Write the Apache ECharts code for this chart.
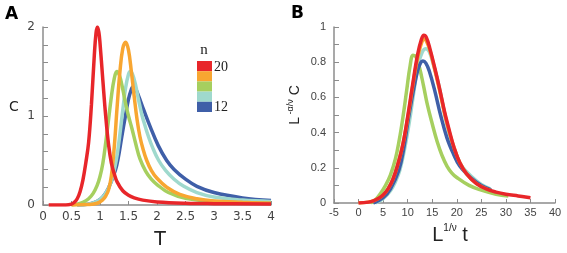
<!DOCTYPE html>
<html>
<head>
<meta charset="utf-8">
<script src="https://cdn.jsdelivr.net/npm/echarts@6/dist/echarts.min.js"></script>
<style>
  html, body { margin: 0; padding: 0; background: #fff; }
  #chart { width: 567px; height: 253px; }
</style>
</head>
<body>
<div id="chart"></div>
<script>
// panel A : C vs T for n = 20 .. 12
const redA = [[0.1,0],[0.4,0],[0.5,0.01],[0.55,0.03],[0.6,0.07],[0.65,0.15],[0.7,0.28],[0.75,0.47],[0.8,0.7],[0.85,1.13],[0.9,1.68],[0.93,1.93],[0.955,2.0],[0.98,1.94],[1.0,1.82],[1.05,1.4],[1.1,1.0],[1.15,0.68],[1.2,0.47],[1.25,0.35],[1.3,0.26],[1.4,0.16],[1.5,0.11],[1.6,0.08],[1.75,0.055],[2,0.035],[2.5,0.02],[3,0.015],[4,0.01]];
const orangeA = [[0.5,0],[0.8,0.005],[0.95,0.02],[1.05,0.06],[1.1,0.1],[1.15,0.17],[1.2,0.33],[1.25,0.65],[1.3,1.1],[1.35,1.5],[1.4,1.76],[1.45,1.83],[1.5,1.74],[1.55,1.5],[1.6,1.22],[1.65,0.96],[1.7,0.77],[1.75,0.64],[1.82,0.5],[1.9,0.39],[2.0,0.3],[2.17,0.2],[2.4,0.12],[2.7,0.07],[3,0.045],[3.5,0.03],[4,0.02]];
const greenA = [[0.5,0],[0.6,0.01],[0.7,0.03],[0.8,0.07],[0.88,0.13],[0.95,0.22],[1.0,0.32],[1.05,0.47],[1.1,0.7],[1.15,0.96],[1.2,1.22],[1.25,1.42],[1.295,1.5],[1.34,1.46],[1.4,1.3],[1.45,1.14],[1.5,1.0],[1.56,0.86],[1.63,0.68],[1.7,0.52],[1.8,0.38],[1.9,0.29],[2.0,0.23],[2.2,0.14],[2.5,0.075],[3,0.04],[3.5,0.025],[4,0.02]];
const cyanA = [[0.6,0],[0.8,0.01],[0.95,0.04],[1.05,0.09],[1.15,0.19],[1.2,0.27],[1.25,0.39],[1.3,0.56],[1.35,0.8],[1.4,1.07],[1.45,1.32],[1.5,1.47],[1.53,1.5],[1.57,1.47],[1.62,1.36],[1.68,1.17],[1.74,1.0],[1.79,0.89],[1.85,0.77],[1.92,0.65],[2.03,0.5],[2.15,0.39],[2.3,0.29],[2.47,0.21],[2.7,0.14],[3,0.09],[3.5,0.055],[4,0.04]];
const blueA = [[0.6,0],[0.8,0.01],[0.95,0.04],[1.05,0.09],[1.15,0.19],[1.27,0.39],[1.32,0.53],[1.38,0.76],[1.44,0.98],[1.5,1.19],[1.55,1.3],[1.58,1.33],[1.62,1.31],[1.68,1.22],[1.76,1.08],[1.88,0.88],[2.02,0.67],[2.17,0.5],[2.3,0.4],[2.5,0.29],[2.7,0.21],[3,0.14],[3.5,0.08],[4,0.05]];

// panel B : scaled collapse
const redB = [[0,0],[2,0.005],[3,0.012],[4,0.025],[5,0.045],[6,0.08],[7,0.135],[8,0.22],[9,0.33],[10,0.49],[11,0.67],[12,0.84],[12.8,0.93],[13.3,0.953],[13.8,0.94],[14.5,0.88],[15.5,0.77],[16.5,0.65],[17.5,0.52],[18.5,0.41],[19.5,0.31],[20.6,0.23],[22,0.165],[24,0.11],[26,0.08],[28,0.062],[30,0.05],[32.5,0.04],[35,0.03]];
const orangeB = [[0,0],[2,0.005],[3,0.012],[4,0.025],[5,0.045],[6,0.08],[7,0.135],[8,0.22],[9,0.33],[10,0.48],[11,0.66],[12,0.82],[12.9,0.915],[13.4,0.93],[13.9,0.915],[14.6,0.86],[15.5,0.76],[16.5,0.64],[17.5,0.51],[18.5,0.4],[19.5,0.31],[20.6,0.23],[22,0.165],[24,0.11],[27,0.07]];
const greenB = [[2.5,0],[3.5,0.02],[4.5,0.055],[5.5,0.1],[6.5,0.16],[7.5,0.25],[8.3,0.36],[9,0.48],[9.8,0.64],[10.5,0.78],[11.1,0.84],[11.7,0.83],[12.4,0.77],[13.2,0.67],[14,0.56],[15,0.45],[16,0.35],[17,0.27],[18,0.21],[19,0.17],[20,0.145],[22.5,0.1],[25,0.073],[28,0.05],[30.5,0.04]];
const cyanB = [[3.5,0],[5,0.025],[6.5,0.07],[7.5,0.12],[8.4,0.186],[9.4,0.31],[10.4,0.47],[11.3,0.64],[12.2,0.79],[13,0.86],[13.7,0.877],[14.4,0.86],[15.2,0.79],[16,0.71],[16.8,0.61],[17.8,0.47],[18.8,0.36],[19.8,0.28],[21,0.21],[23,0.15],[25,0.105],[26.8,0.08]];
const blueB = [[3,0],[5,0.03],[6.5,0.08],[8.2,0.186],[9.2,0.31],[10.1,0.47],[11.1,0.63],[12,0.75],[12.6,0.795],[13.1,0.807],[13.7,0.795],[14.4,0.75],[15.5,0.64],[16.7,0.5],[18,0.37],[19.3,0.28],[20.6,0.21],[23,0.14],[25,0.1],[27,0.075]];

const legendLabels = ['20', '12'];

const colors = {
  red: '#e8262a',
  orange: '#f8a631',
  green: '#a6cf5f',
  cyan: '#9fd9cd',
  blue: '#3f5fa8'
};
const axisGray = '#8c8c8c';

const chart = echarts.init(document.getElementById('chart'));

function line(name, data, color, idx) {
  return {
    name: name,
    type: 'line',
    xAxisIndex: idx,
    yAxisIndex: idx,
    data: data,
    smooth: 0.4,
    showSymbol: false,
    lineStyle: { color: color, width: 3.5 },
    z: 2
  };
}

const legendOrder = ['red', 'orange', 'green', 'cyan', 'blue'];
const legendBlocks = legendOrder.map((c, i) => ({
  type: 'rect',
  shape: { x: 197, y: 61 + i * 10.2, width: 15, height: 10.2 },
  style: { fill: colors[c] }
}));

const option = {
  animation: false,
  grid: [
    { left: 43, top: 27, width: 228, height: 178, containLabel: false, outerBoundsMode: 'none' },
    { left: 334, top: 27, width: 221, height: 176, containLabel: false, outerBoundsMode: 'none' }
  ],
  xAxis: [
    {
      gridIndex: 0, type: 'value', min: 0, max: 4, interval: 0.5,
      axisLine: { lineStyle: { color: axisGray, width: 1.5 } },
      axisTick: { inside: true, length: 4, lineStyle: { color: axisGray } },
      axisLabel: { color: '#444', fontFamily: 'DejaVu Sans', fontSize: 12, margin: 6 },
      splitLine: { show: false }
    },
    {
      gridIndex: 1, type: 'value', min: -5, max: 40, interval: 5,
      axisLine: { onZero: false, lineStyle: { color: axisGray, width: 1.5 } },
      axisTick: { inside: true, length: 4, lineStyle: { color: axisGray } },
      axisLabel: { color: '#444', fontFamily: 'Liberation Sans', fontSize: 11, margin: 4 },
      splitLine: { show: false }
    }
  ],
  yAxis: [
    {
      gridIndex: 0, type: 'value', min: 0, max: 2, interval: 0.2,
      axisLine: { show: true, lineStyle: { color: axisGray, width: 1.5 } },
      axisTick: { show: true, inside: true, length: 5, lineStyle: { color: axisGray } },
      axisLabel: {
        color: '#444', fontFamily: 'DejaVu Sans', fontSize: 12, margin: 8,
        formatter: v => (Math.abs(v - Math.round(v)) < 1e-6 ? String(Math.round(v)) : '')
      },
      splitLine: { show: false }
    },
    {
      gridIndex: 1, type: 'value', min: 0, max: 1, interval: 0.1,
      axisLine: { show: true, onZero: false, lineStyle: { color: axisGray, width: 1.5 } },
      axisTick: { show: true, inside: true, length: 5, lineStyle: { color: axisGray } },
      axisLabel: {
        color: '#444', fontFamily: 'Liberation Sans', fontSize: 11, margin: 8,
        formatter: v => {
          const k = Math.round(v * 10);
          return k % 2 === 0 ? String(k / 10) : '';
        }
      },
      splitLine: { show: false }
    }
  ],
  series: [
    line('n12', blueA, colors.blue, 0),
    line('n14', cyanA, colors.cyan, 0),
    line('n16', greenA, colors.green, 0),
    line('n18', orangeA, colors.orange, 0),
    line('n20', redA, colors.red, 0),
    line('n16', greenB, colors.green, 1),
    line('n14', cyanB, colors.cyan, 1),
    line('n12', blueB, colors.blue, 1),
    line('n18', orangeB, colors.orange, 1),
    line('n20', redB, colors.red, 1)
  ],
  graphic: [
    { type: 'text', x: 5, y: 6, style: { text: 'A', fontFamily: 'DejaVu Sans', fontWeight: 'bold', fontSize: 17, fill: '#000' } },
    { type: 'text', x: 291, y: 5, style: { text: 'B', fontFamily: 'DejaVu Sans', fontWeight: 'bold', fontSize: 17, fill: '#000' } },
    { type: 'text', x: 14, y: 107, style: { text: 'C', fontFamily: 'DejaVu Sans', fontSize: 14, fill: '#222', align: 'center', verticalAlign: 'middle' } },
    { type: 'text', x: 160, y: 240, style: { text: 'T', fontFamily: 'DejaVu Sans', fontSize: 19, fill: '#222', align: 'center', verticalAlign: 'middle' } },
    { type: 'text', x: 204, y: 50, style: { text: 'n', fontFamily: 'Liberation Serif', fontSize: 15, fill: '#222', align: 'center', verticalAlign: 'middle' } },
    { type: 'text', x: 214, y: 67, style: { text: legendLabels[0], fontFamily: 'Liberation Serif', fontSize: 14, fill: '#222', align: 'left', verticalAlign: 'middle' } },
    { type: 'text', x: 214, y: 107, style: { text: legendLabels[1], fontFamily: 'Liberation Serif', fontSize: 14, fill: '#222', align: 'left', verticalAlign: 'middle' } },
    ...legendBlocks,
    {
      type: 'text', x: 450, y: 234,
      style: {
        text: '{m|L}{s|1/ν}{m| t}', align: 'center', verticalAlign: 'middle', fill: '#222',
        rich: {
          m: { fontFamily: 'Liberation Sans', fontSize: 20, lineHeight: 22, verticalAlign: 'bottom', fill: '#222' },
          s: { fontFamily: 'Liberation Sans', fontSize: 10, lineHeight: 22, verticalAlign: 'top', fill: '#222' }
        }
      }
    },
    {
      type: 'text', x: 294, y: 105, rotation: Math.PI / 2,
      style: {
        text: '{m|L}{s| -α/ν}{m| C}', align: 'center', verticalAlign: 'middle', fill: '#222',
        rich: {
          m: { fontFamily: 'Liberation Sans', fontSize: 14, lineHeight: 16, verticalAlign: 'bottom', fill: '#222' },
          s: { fontFamily: 'Liberation Sans', fontSize: 9, lineHeight: 16, verticalAlign: 'top', fill: '#222' }
        }
      }
    }
  ]
};

chart.setOption(option);
</script>
</body>
</html>
